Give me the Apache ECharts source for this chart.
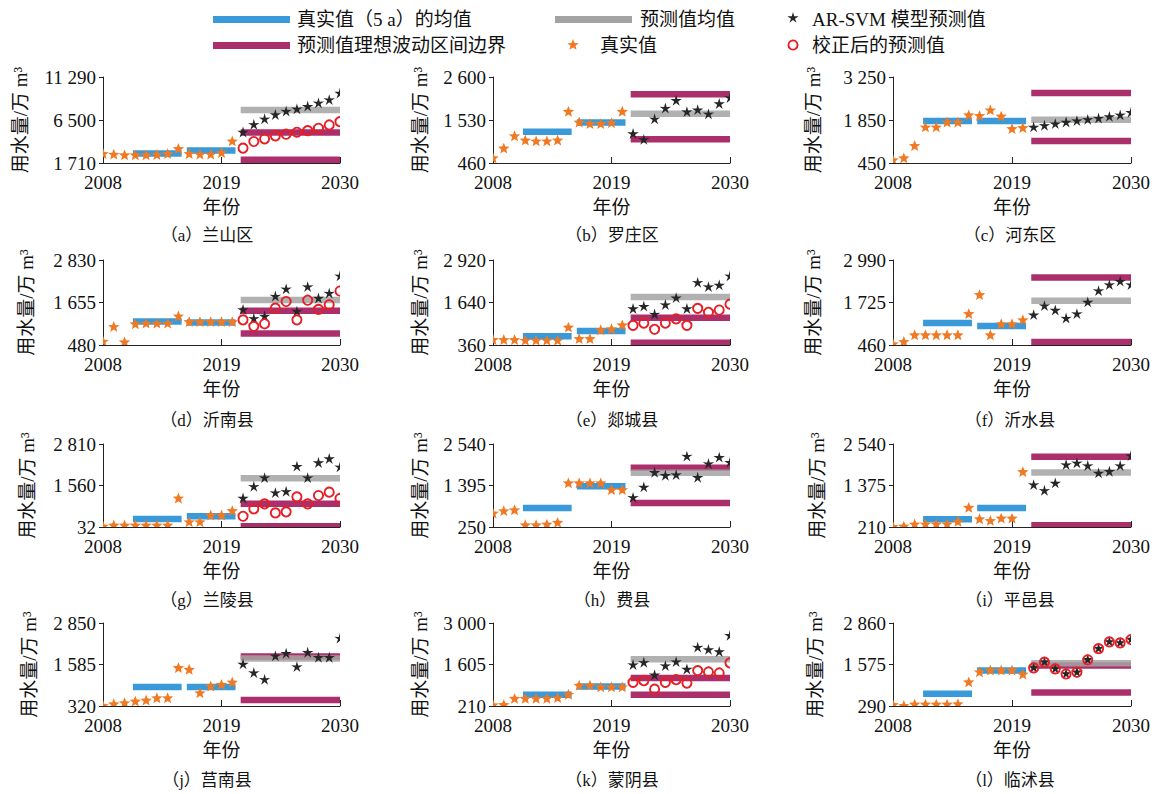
<!DOCTYPE html>
<html>
<head>
<meta charset="utf-8">
<script src="https://cdn.jsdelivr.net/npm/echarts@6/dist/echarts.min.js"></script>
<style>
  html, body { margin: 0; padding: 0; background: #ffffff; }
  #chart { width: 1167px; height: 794px; }
</style>
</head>
<body>
<div id="chart"></div>
<script>
// ---- data ----------------------------------------------------------------
const realYears = [2008, 2009, 2010, 2011, 2012, 2013, 2014, 2015, 2016, 2017, 2018, 2019, 2020];
const predYears = [2021, 2022, 2023, 2024, 2025, 2026, 2027, 2028, 2029, 2030];
const meanPeriods = [[2011, 2015], [2016, 2020]];
const predPeriod = [2021, 2030];
const xTicks = [2008, 2019, 2030];

const letters = ['a', 'b', 'c', 'd', 'e', 'f', 'g', 'h', 'i', 'j', 'k', 'l'];
const districts = ['兰山区', '罗庄区', '河东区', '沂南县', '郯城县', '沂水县',
                   '兰陵县', '费县', '平邑县', '莒南县', '蒙阴县', '临沭县'];

// y axis: tick values and the labels printed at them
const yTickValues = [
  [1710, 6500, 11290], [460, 1530, 2600], [450, 1850, 3250],
  [480, 1655, 2830], [360, 1640, 2920], [460, 1725, 2990],
  [310, 1560, 2810], [250, 1395, 2540], [210, 1375, 2540],
  [320, 1585, 2850], [210, 1605, 3000], [290, 1575, 2860]
];
const yTickLabels = [
  ['1 710', '6 500', '11 290'], ['460', '1 530', '2 600'], ['450', '1 850', '3 250'],
  ['480', '1 655', '2 830'], ['360', '1 640', '2 920'], ['460', '1 725', '2 990'],
  ['32', '1 560', '2 810'], ['250', '1 395', '2 540'], ['210', '1 375', '2 540'],
  ['320', '1 585', '2 850'], ['210', '1 605', '3 000'], ['290', '1 575', '2 860']
];

// observed water use 2008-2020
const realValues = [
  [2705, 2631, 2558, 2558, 2558, 2594, 2705, 3258, 2705, 2631, 2631, 2816, 4105],
  [573, 817, 1125, 1019, 995, 995, 1019, 1733, 1465, 1425, 1425, 1449, 1733],
  [535, 599, 1002, 1606, 1606, 1767, 1767, 2000, 1979, 2160, 1958, 1553, 1585],
  [570, 977, 552, 1049, 1067, 1067, 1067, 1266, 1112, 1112, 1112, 1112, 1112],
  [508, 508, 508, 488, 488, 488, 488, 882, 537, 537, 803, 833, 951],
  [480, 549, 748, 748, 748, 748, 748, 1376, 1943, 748, 1077, 1077, 1197],
  [320, 352, 352, 352, 352, 352, 352, 1167, 453, 453, 655, 655, 786],
  [619, 684, 711, 296, 296, 315, 361, 1451, 1451, 1451, 1451, 1266, 1266],
  [210, 220, 280, 280, 280, 280, 355, 745, 426, 379, 445, 445, 1750],
  [320, 371, 402, 453, 484, 555, 555, 1473, 1422, 708, 912, 963, 1034],
  [230, 240, 448, 448, 448, 448, 470, 584, 890, 890, 834, 834, 834],
  [314, 290, 331, 331, 331, 331, 342, 1021, 1334, 1387, 1387, 1387, 1261]
];

// five-year means of the observed values (2011-2015, 2016-2020)
const meanValues = [
  [2779, 3110], [1238, 1465], [1819, 1819], [1130, 1103], [626, 783], [1117, 1027],
  [554, 634], [777, 1377], [426, 745], [902, 902], [584, 867], [666, 1387]
];

// AR-SVM forecasts 2021-2030
const arsvmValues = [
  [5100, 5948, 6574, 7053, 7422, 7680, 7975, 8343, 8712, 9449],
  [1181, 1035, 1546, 1814, 2008, 1725, 1773, 1668, 1927, 2073],
  [1606, 1659, 1712, 1767, 1810, 1852, 1895, 1948, 2000, 2085],
  [1447, 1203, 1266, 1818, 2017, 1402, 2080, 1764, 1899, 2378],
  [1443, 1512, 1276, 1561, 1768, 1443, 2231, 2103, 2152, 2428],
  [1346, 1615, 1485, 1246, 1376, 1725, 2063, 2242, 2342, 2242],
  [1167, 1520, 1782, 1328, 1369, 2125, 1782, 2236, 2357, 2105],
  [1053, 1340, 1746, 1663, 1681, 2189, 1608, 1986, 2161, 2023],
  [1384, 1225, 1431, 1947, 1994, 1919, 1712, 1759, 1919, 2200],
  [1585, 1320, 1116, 1830, 1912, 1503, 1942, 1789, 1789, 2371],
  [1582, 1661, 1242, 1548, 1684, 1435, 2172, 2092, 2024, 2569],
  [1470, 1648, 1439, 1282, 1334, 1721, 2066, 2275, 2243, 2348]
];

// corrected forecasts (only where a correction was needed)
const correctedValues = [
  [3368, 4105, 4400, 4732, 4916, 5137, 5321, 5579, 5948, 6316],
  null, null,
  [1176, 995, 1067, 1501, 1682, 1176, 1718, 1465, 1592, 1972],
  [951, 1020, 833, 1020, 1148, 951, 1463, 1345, 1414, 1591],
  null,
  [634, 856, 1007, 735, 766, 1219, 1007, 1259, 1360, 1169],
  null, null, null,
  [1003, 1060, 777, 1003, 1094, 980, 1400, 1355, 1321, 1661],
  [1470, 1648, 1439, 1282, 1334, 1721, 2066, 2275, 2243, 2348]
];

// mean of the forecasts and the bounds of the ideal fluctuation band
const predMean = [7606, 1684, 1861, 1727, 1807, 1775, 1782, 1746, 1740, 1768, 1780, 1616];
const boundUpper = [5100, 2171, 2728, 1429, 1177, 2472, 1007, 1884, 2182, 1830, 1151, 1543];
const boundLower = [2079, 1052, 1169, 796, 429, 550, 332, 915, 257, 504, 584, 707];

// ---- layout & style -------------------------------------------------------
const colLeft = [103, 493, 893];
const colWidth = [237, 237, 238];
const rowTop = [77, 260, 444, 623];
const rowHeight = [86, 85, 83, 83];
const captionX = [207, 612, 1010];
const captionY = [235, 420, 600, 780];
const yNameGap = [73, 63, 70, 67, 63, 70, 66, 63, 66, 64, 63, 68];

const BLUE = '#3a9ad9';
const GRAY = '#a3a3a3';
const PURPLE = '#ab2f6b';
const ORANGE = '#f07a24';
const BLACK = '#262626';
const RED = '#e61e25';
const BAR_H = 6.5;
const AXIS_COLOR = '#222';
const FONT = '"Liberation Serif", "Noto Sans CJK SC", serif';

function starPoints(cx, cy, R, r) {
  const pts = [];
  for (let k = 0; k < 10; k++) {
    const ang = -Math.PI / 2 + k * Math.PI / 5;
    const rad = k % 2 === 0 ? R : r;
    pts.push([cx + rad * Math.cos(ang), cy + rad * Math.sin(ang)]);
  }
  return pts;
}

function barSeries(idx, name, items, color, opacity) {
  return {
    type: 'custom', name, xAxisIndex: idx, yAxisIndex: idx, clip: true, silent: true,
    data: items, encode: { x: [0, 1], y: 2 },
    renderItem(params, api) {
      const a = api.coord([api.value(0) - 0.22, api.value(2)]);
      const b = api.coord([api.value(1) + 0.3, api.value(2)]);
      return {
        type: 'rect',
        shape: { x: a[0], y: a[1] - BAR_H / 2, width: b[0] - a[0], height: BAR_H },
        style: { fill: color, opacity: opacity }
      };
    }
  };
}

function starSeries(idx, name, xs, ys, color, R, r) {
  return {
    type: 'custom', name, xAxisIndex: idx, yAxisIndex: idx, clip: true, silent: true,
    data: xs.map((x, i) => [x, ys[i]]), encode: { x: 0, y: 1 },
    renderItem(params, api) {
      const p = api.coord([api.value(0), api.value(1)]);
      return { type: 'polygon', shape: { points: starPoints(p[0], p[1], R, r) }, style: { fill: color } };
    }
  };
}

function circleSeries(idx, name, xs, ys) {
  return {
    type: 'custom', name, xAxisIndex: idx, yAxisIndex: idx, clip: true, silent: true,
    data: xs.map((x, i) => [x, ys[i]]), encode: { x: 0, y: 1 },
    renderItem(params, api) {
      const p = api.coord([api.value(0), api.value(1)]);
      return { type: 'circle', shape: { cx: p[0], cy: p[1], r: 4.6 },
               style: { fill: 'none', stroke: RED, lineWidth: 1.9 } };
    }
  };
}

const grids = [], xAxes = [], yAxes = [], series = [], graphics = [];

for (let i = 0; i < 12; i++) {
  const row = Math.floor(i / 3), col = i % 3;
  grids.push({ left: colLeft[col], top: rowTop[row], width: colWidth[col], height: rowHeight[row] });

  xAxes.push({
    gridIndex: i, type: 'value', min: 2008, max: 2030, interval: 11,
    splitLine: { show: false },
    axisLine: { show: true, onZero: false, lineStyle: { color: AXIS_COLOR, width: 1 } },
    axisTick: { show: true, inside: true, length: 6, customValues: xTicks, lineStyle: { color: AXIS_COLOR } },
    axisLabel: { customValues: xTicks, showMinLabel: true, showMaxLabel: true, margin: 10,
                 fontFamily: FONT, fontSize: 19, color: '#111', formatter: v => String(v) },
    name: '年份', nameLocation: 'middle', nameGap: 35,
    nameTextStyle: { fontFamily: FONT, fontSize: 19, color: '#111' }
  });

  const tv = yTickValues[i], tl = yTickLabels[i];
  yAxes.push({
    gridIndex: i, type: 'value', min: tv[0], max: tv[2],
    splitLine: { show: false },
    axisLine: { show: true, lineStyle: { color: AXIS_COLOR, width: 1 } },
    axisTick: { show: true, inside: false, length: 4, customValues: tv, lineStyle: { color: AXIS_COLOR } },
    axisLabel: {
      customValues: tv, showMinLabel: true, showMaxLabel: true, margin: 7,
      fontFamily: FONT, fontSize: 19, color: '#111',
      formatter: v => {
        let best = 0;
        tv.forEach((t, k) => { if (Math.abs(t - v) < Math.abs(tv[best] - v)) best = k; });
        return tl[best];
      }
    },
    name: '用水量/万 m³', nameLocation: 'middle', nameGap: yNameGap[i],
    nameTextStyle: { fontFamily: FONT, fontSize: 19, color: '#111' }
  });

  series.push(barSeries(i, '真实值(5 a)的均值',
    meanPeriods.map((p, k) => [p[0], p[1], meanValues[i][k]]), BLUE, 1));
  series.push(barSeries(i, '预测值理想波动区间边界',
    [[predPeriod[0], predPeriod[1], boundUpper[i]], [predPeriod[0], predPeriod[1], boundLower[i]]], PURPLE, 1));
  series.push(barSeries(i, '预测值均值',
    [[predPeriod[0], predPeriod[1], predMean[i]]], GRAY, 0.85));
  series.push(starSeries(i, '真实值', realYears, realValues[i], ORANGE, 6, 2.6));
  series.push(starSeries(i, 'AR-SVM模型预测值', predYears, arsvmValues[i], BLACK, 6, 2.1));
  if (correctedValues[i]) series.push(circleSeries(i, '校正后的预测值', predYears, correctedValues[i]));

  graphics.push({
    type: 'text', x: captionX[col], y: captionY[row],
    style: { text: '（' + letters[i] + '）' + districts[i], font: '17px ' + FONT, fill: '#111',
             align: 'center', verticalAlign: 'middle', textAlign: 'center', textVerticalAlign: 'middle' }
  });
}

// legend block
function legendText(x, y, text) {
  return { type: 'text', x, y, style: { text, font: '19px ' + FONT, fill: '#111',
           align: 'left', verticalAlign: 'middle', textAlign: 'left', textVerticalAlign: 'middle' } };
}
graphics.push(
  { type: 'rect', shape: { x: 213, y: 16, width: 77, height: 7 }, style: { fill: BLUE } },
  legendText(297, 19, '真实值（5 a）的均值'),
  { type: 'rect', shape: { x: 555, y: 16, width: 77, height: 7 }, style: { fill: GRAY } },
  legendText(640, 19, '预测值均值'),
  { type: 'polygon', shape: { points: starPoints(793, 18, 6, 2.1) }, style: { fill: BLACK } },
  legendText(812, 19, 'AR-SVM 模型预测值'),
  { type: 'rect', shape: { x: 213, y: 42, width: 77, height: 7 }, style: { fill: PURPLE } },
  legendText(297, 45, '预测值理想波动区间边界'),
  { type: 'polygon', shape: { points: starPoints(573, 45, 6, 2.6) }, style: { fill: ORANGE } },
  legendText(600, 45, '真实值'),
  { type: 'circle', shape: { cx: 793, cy: 45, r: 4.6 }, style: { fill: 'none', stroke: RED, lineWidth: 1.9 } },
  legendText(812, 45, '校正后的预测值')
);

const chart = echarts.init(document.getElementById('chart'), null, { renderer: 'svg' });
chart.setOption({
  animation: false,
  backgroundColor: '#ffffff',
  grid: grids,
  xAxis: xAxes,
  yAxis: yAxes,
  series: series,
  graphic: graphics
});
</script>
</body>
</html>
